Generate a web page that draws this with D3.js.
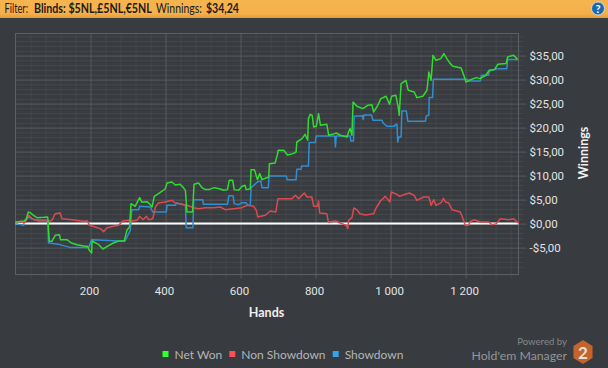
<!DOCTYPE html>
<html>
<head>
<meta charset="utf-8">
<script src="https://cdn.jsdelivr.net/npm/d3@7"></script>
<style>
html, body { margin: 0; padding: 0; background: #383b3f; overflow: hidden; }
text { font-family: Lato, sans-serif; }
</style>
</head>
<body>
<svg id="chart" width="608" height="368"></svg>
<script>
// values: hands and winnings in dollars
const netWonHands = [0,23,29,34,39,48,57,75,86,90,97,106,117,120,137,149,164,186,192,197,203,204,221,233,248,261,275,290,297,304,308,319,331,337,350,357,364,370,384,399,404,417,426,439,446,453,457,472,476,488,497,506,515,530,546,555,565,570,579,583,595,604,612,615,626,628,637,645,651,657,675,677,692,699,700,715,725,740,748,750,764,772,779,781,786,791,795,802,808,813,830,835,851,855,866,884,888,892,897,900,910,926,939,950,955,966,974,988,997,1003,1014,1021,1023,1028,1041,1047,1063,1070,1086,1097,1102,1108,1113,1121,1134,1142,1150,1159,1166,1188,1195,1201,1210,1228,1239,1254,1263,1277,1286,1308,1312,1328,1339];
const netWonValues = [0.34,0.55,1.03,2.42,2.28,1.72,1.24,1.31,1.38,-3.69,-3.69,-2.44,-2.30,-3.34,-3.34,-4.04,-4.39,-4.73,-4.73,-5.57,-6.12,-3.62,-4.32,-5.29,-4.59,-4.04,-3.62,-3.62,-1.40,-0.71,4.16,3.60,5.41,4.43,4.57,4.16,3.46,5.68,6.38,7.21,8.46,8.67,8.04,8.18,7.63,6.93,2.42,2.42,8.18,8.46,7.49,7.08,7.08,7.49,7.21,6.94,7.08,9.02,9.02,7.08,6.94,7.77,7.98,7.08,7.28,11.24,11.24,9.16,10.41,9.16,9.72,12.49,12.63,14.58,15.27,15.27,14.30,14.58,14.92,17.00,17.70,18.60,17.35,21.87,22.77,22.56,20.13,20.27,22.91,20.48,20.69,18.40,18.74,18.88,18.40,18.05,19.09,19.80,18.40,25.34,24.44,23.95,24.65,24.78,23.26,24.65,26.03,26.52,24.85,26.52,26.73,23.95,22.56,29.16,29.85,27.77,27.42,26.24,26.52,27.77,31.59,29.85,35.06,34.02,34.37,35.41,34.37,33.33,32.77,32.42,30.90,29.50,29.85,30.41,30.20,30.90,31.94,32.08,33.19,33.33,34.72,35.06,34.16];

const nonShowdownHands = [0,26,35,44,61,92,97,106,119,124,150,181,192,197,212,226,235,244,261,275,286,301,308,324,331,340,349,355,366,373,381,399,417,426,439,457,475,488,506,528,546,559,581,604,617,635,642,646,666,679,694,700,719,737,746,755,770,777,790,795,805,808,811,830,834,854,866,882,886,888,897,902,910,918,933,955,959,973,986,998,1002,1017,1024,1039,1050,1063,1070,1088,1102,1108,1115,1121,1135,1141,1146,1155,1164,1186,1193,1199,1208,1211,1223,1239,1262,1270,1282,1293,1315,1328,1337,1342];
const nonShowdownValues = [0.34,0.30,1.73,1.03,0.55,0.55,0.68,2.07,2.21,1.03,0.82,0.48,0.55,-0.36,-0.70,-1.05,-1.68,-0.84,-0.57,-0.36,0.55,0.68,0.55,0.68,1.52,0.82,1.52,0.82,1.03,3.46,4.30,4.50,4.85,4.30,4.16,3.81,3.32,3.10,3.32,3.32,3.46,2.90,3.10,3.32,3.81,3.60,2.77,1.38,1.73,2.63,2.42,5.20,5.20,5.20,5.90,5.20,6.38,5.54,5.54,3.60,3.60,4.71,2.21,2.07,0.34,0.55,0.13,-0.36,-1.05,0.68,1.24,3.25,2.90,2.07,1.80,2.07,2.90,4.71,5.68,4.50,6.59,6.10,5.68,6.10,6.38,5.89,4.85,5.54,5.54,3.81,4.99,3.81,4.36,5.27,4.50,4.30,2.90,2.42,1.03,-0.36,-0.36,0.34,0.82,0.34,0.34,-0.22,0,1.03,0.82,1.03,0.34,0.10];

const showdownHands = [0,22,23,35,48,86,88,115,148,195,203,276,292,306,310,328,331,359,366,402,404,426,429,453,455,473,475,499,501,565,569,580,583,595,604,615,619,626,628,645,654,657,674,676,722,724,748,750,761,763,781,783,799,802,851,853,855,892,894,901,903,925,927,929,949,953,977,980,990,1010,1014,1017,1019,1022,1028,1030,1042,1046,1093,1095,1102,1103,1112,1114,1204,1209,1239,1242,1261,1263,1286,1310,1312,1339];
const showdownValues = [0,-0.36,0.34,1.38,0.82,0.68,-4.04,-4.32,-5.00,-5.00,-3.34,-3.62,-3.62,-1.40,2.90,2.90,3.60,3.46,2.42,2.42,3.81,3.81,4.30,3.81,-0.84,-0.84,4.99,4.99,4.02,4.02,5.82,5.82,4.16,3.95,4.36,4.36,3.81,3.81,7.49,8.67,8.88,7.49,7.49,9.92,9.92,9.16,9.16,11.31,11.31,12.00,12.00,16.87,16.87,18.26,18.26,15.96,18.26,18.26,17.20,17.20,22.35,22.49,21.66,22.63,22.63,21.52,21.52,20.97,20.27,20.27,20.69,20.69,17.00,18.05,18.05,23.47,23.47,21.32,21.32,22.43,22.57,26.25,26.25,30.07,30.07,29.72,29.72,30.90,30.90,31.80,32.28,32.28,34.16,34.16];

// short red stub at the very end of the lines
const endHands = [1337,1341];
const endValues = [34.16,34.16];

const xMajor = [200,400,600,800,1000,1200];
const yMajor = [-5,0,5,10,15,20,25,30,35];
const legendNames = ["Net Won","Non Showdown","Showdown"];
const legendColors = ["#33ff33","#ff4d55","#35a2ee"];

const width = 608, height = 368;
const plot = { left: 15.5, right: 518.5, top: 33.5, bottom: 274.5 };
const tickFont = "Roboto, sans-serif";

const svg = d3.select("#chart");

// header strip
const grad = svg.append("defs").append("linearGradient")
    .attr("id", "hdr").attr("x1", 0).attr("x2", 0).attr("y1", 0).attr("y2", 1);
grad.append("stop").attr("offset", "0%").attr("stop-color", "#f6b44f");
grad.append("stop").attr("offset", "75%").attr("stop-color", "#f5b04a");
grad.append("stop").attr("offset", "100%").attr("stop-color", "#e09c3c");
svg.append("rect").attr("width", width).attr("height", 18).attr("fill", "url(#hdr)");

// the header font is narrower than anything installed, so squeeze each run
const hdrRuns = [
    { t: "Filter:", x: 4.5, w: 23.5, bold: false },
    { t: "Blinds: $5NL,£5NL,€5NL", x: 34, w: 118, bold: true },
    { t: "Winnings:", x: 156, w: 46, bold: false },
    { t: "$34,24", x: 206, w: 33, bold: true }
];
hdrRuns.forEach(r => {
    const t = svg.append("text")
        .attr("font-weight", r.bold ? "bold" : "normal")
        .style("font-size", "12.5px").attr("fill", "#1c1c1c").text(r.t);
    const natural = t.node().getComputedTextLength();
    t.attr("transform", `translate(${r.x},13) scale(${r.w / natural},1)`);
});

// help icon
svg.append("circle").attr("cx", 598).attr("cy", 8.5).attr("r", 6.5)
    .attr("fill", "#1c68ae").attr("stroke", "#d9e6ef").attr("stroke-width", 0.8);
svg.append("text").attr("x", 598).attr("y", 12.5).attr("text-anchor", "middle")
    .attr("font-weight", "bold").style("font-size", "11px").attr("fill", "#fff").text("?");

// Scales
const x = d3.scaleLinear().domain([0, 1341]).range([plot.left, plot.right]);
const y = d3.scaleLinear().domain([-10.6, 39.6]).range([plot.bottom, plot.top]);

const gridColor = "#45484b", majorColor = "#585b5e";

// minor grid
svg.append("g").attr("transform", `translate(0,${plot.bottom})`)
    .call(d3.axisBottom(x).tickValues(d3.range(40, 1341, 40).filter(d => d % 200 !== 0))
        .tickSize(-(plot.bottom - plot.top) ).tickFormat(""))
    .call(g => g.select(".domain").remove())
    .call(g => g.selectAll("line").attr("stroke", gridColor).attr("y2", -(plot.bottom - plot.top)).attr("y1", 4));
svg.append("g").attr("transform", `translate(${plot.right},0)`)
    .call(d3.axisRight(y).tickValues(d3.range(-10, 40).filter(d => d % 5 !== 0))
        .tickSize(5).tickFormat(""))
    .call(g => g.select(".domain").remove())
    .call(g => g.selectAll("line").attr("stroke", gridColor).attr("x1", -(plot.right - plot.left)));

// major grid with labels
svg.append("g").attr("transform", `translate(0,${plot.bottom})`)
    .call(d3.axisBottom(x).tickValues(xMajor).tickSize(4).tickPadding(8)
        .tickFormat(d => d >= 1000 ? d3.format(",")(d).replace(",", " ") : d))
    .call(g => g.select(".domain").remove())
    .call(g => g.selectAll("line").attr("stroke", majorColor).attr("y1", -(plot.bottom - plot.top)))
    .call(g => g.selectAll("text").attr("fill", "#e2e3e4").attr("dx", -1.5)
        .style("font-size", "11.5px").style("font-family", tickFont));
svg.append("g").attr("transform", `translate(${plot.right},0)`)
    .call(d3.axisRight(y).tickValues(yMajor).tickSize(8).tickPadding(3)
        .tickFormat(d => (d < 0 ? "-$" : "$") + Math.abs(d) + ",00"))
    .call(g => g.select(".domain").remove())
    .call(g => g.selectAll("line").attr("stroke", majorColor).attr("x1", -(plot.right - plot.left)))
    .call(g => g.selectAll("text").attr("fill", "#e2e3e4")
        .style("font-size", "11.5px").style("font-family", tickFont));

// frame
svg.append("rect").attr("x", plot.left).attr("y", plot.top)
    .attr("width", plot.right - plot.left).attr("height", plot.bottom - plot.top)
    .attr("fill", "none").attr("stroke", "#5e6164");

// zero line
svg.append("line").attr("x1", plot.left).attr("x2", plot.right)
    .attr("y1", y(0)).attr("y2", y(0))
    .attr("stroke", "#ffffff").attr("stroke-width", 2);

// series
const line = d3.line().x(d => x(d[0])).y(d => y(d[1]));
const series = [
    { hands: showdownHands, values: showdownValues, color: "#2f8fd2" },
    { hands: nonShowdownHands, values: nonShowdownValues, color: "#dc4a50" },
    { hands: netWonHands, values: netWonValues, color: "#2fdc2f" },
    { hands: endHands, values: endValues, color: "#dc4a50" }
];
series.forEach(s => {
    svg.append("path")
        .datum(s.hands.map((h, i) => [h, s.values[i]]))
        .attr("d", line)
        .attr("fill", "none")
        .attr("stroke", s.color)
        .attr("stroke-width", 1.5)
        .attr("stroke-linejoin", "round");
});

// axis titles
svg.append("text").attr("x", 266.5).attr("y", 317).attr("text-anchor", "middle")
    .attr("font-weight", "bold").style("font-size", "12.5px").attr("fill", "#f0f0f0").text("Hands");
svg.append("text").attr("transform", "translate(588,153) rotate(-90)").attr("text-anchor", "middle")
    .attr("font-weight", "bold").style("font-size", "12.5px").attr("fill", "#f0f0f0").text("Winnings");

// legend
const legendX = [174.5, 241.3, 344.7];
legendNames.forEach((name, i) => {
    svg.append("rect").attr("x", legendX[i] - 12).attr("y", 351).attr("width", 6).attr("height", 6)
        .attr("fill", legendColors[i]);
    svg.append("text").attr("x", legendX[i]).attr("y", 359)
        .style("font-size", "12px").attr("fill", "#b4b6b8").text(name);
});

// logo
svg.append("text").attr("x", 567).attr("y", 345).attr("text-anchor", "end")
    .style("font-size", "9.6px").attr("fill", "#85888b").text("Powered by");
svg.append("text").attr("x", 567).attr("y", 359.5).attr("text-anchor", "end")
    .style("font-size", "12.3px").attr("fill", "#93969a").text("Hold'em Manager");
const hexR = 12;
svg.append("path")
    .attr("d", d3.line()(d3.range(6).map(i => {
        const a = Math.PI / 3 * i - Math.PI / 2;
        return [583 + hexR * Math.cos(a) * 0.92, 352 + hexR * Math.sin(a)];
    })) + "Z")
    .attr("fill", "#c4632b");
svg.append("text").attr("x", 583).attr("y", 358.5).attr("text-anchor", "middle")
    .attr("font-weight", "bold").style("font-size", "17px").attr("fill", "#e4e0dc").text("2");
</script>
</body>
</html>
